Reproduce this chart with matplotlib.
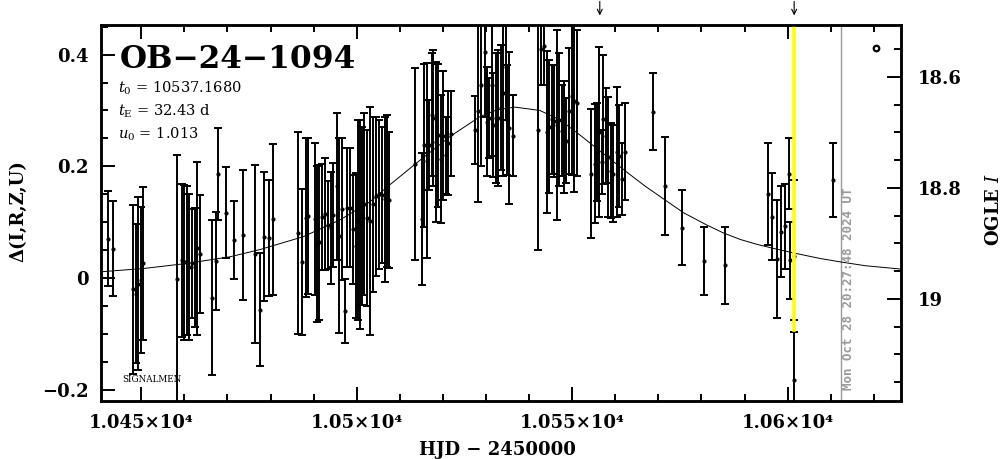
import matplotlib
matplotlib.use("Agg")
import matplotlib.pyplot as plt
from matplotlib.ticker import MultipleLocator

# ---------------- data ----------------
hjd = [10442.37, 10443.53, 10448.17, 10448.79, 10449.33, 10449.88, 10450.49,
       10458.38, 10459.39, 10459.93, 10460.55, 10461.17, 10461.86, 10462.40,
       10463.02, 10463.64, 10466.35, 10467.28, 10467.90, 10469.67, 10471.53,
       10473.70, 10476.40,
       10477.56, 10478.49, 10479.73, 10480.50, 10486.45, 10487.23, 10488.23,
       10488.77, 10490.32, 10490.71, 10491.33, 10491.87, 10492.64, 10493.41,
       10493.96, 10494.57, 10495.35, 10495.89, 10496.51, 10497.28, 10497.82,
       10498.44, 10499.21, 10499.83, 10500.38, 10500.76, 10501.15, 10501.69,
       10502.31, 10503.08, 10503.86, 10504.47, 10505.25, 10505.79, 10506.56,
       10507.10, 10507.57, 10513.52,
       10515.08, 10515.62, 10516.39, 10516.86, 10517.40, 10517.78, 10518.40,
       10518.94, 10519.48, 10520.10, 10520.72, 10521.26, 10521.80,
       10527.45, 10528.22, 10528.77, 10529.77, 10530.16, 10530.70, 10531.32,
       10531.70, 10532.32, 10532.87, 10533.41, 10534.02, 10534.57, 10534.95,
       10535.42, 10536.19,
       10542.15, 10542.69, 10543.46, 10544.08, 10544.70, 10545.24, 10545.78,
       10546.40, 10546.94, 10547.56, 10548.10, 10548.56, 10549.26, 10549.88,
       10550.42, 10551.04,
       10554.36, 10555.29, 10555.83, 10556.30, 10556.84, 10557.22, 10557.84,
       10558.38, 10558.93, 10559.54, 10560.32, 10560.94, 10561.48, 10562.25,
       10568.67, 10571.53, 10575.55, 10580.58, 10585.45,
       10595.50, 10596.43, 10597.44, 10598.37, 10599.37, 10600.38, 10600.53,
       10601.54, 10601.54, 10610.59]
delta = [0.070, 0.052, -0.020, -0.028, -0.010, -0.004, 0.026,
         -0.001, 0.032, 0.028, 0.031, 0.020, 0.026, 0.019,
         0.053, 0.043, -0.035, 0.031, 0.186, 0.117, 0.068,
         0.077, 0.043,
         -0.057, 0.074, 0.071, 0.105, 0.081, 0.029, 0.108,
         0.111, 0.105, 0.061, 0.064, 0.110, 0.114, 0.095,
         0.090, 0.113, 0.164, 0.076, 0.123, -0.059, 0.126,
         0.126, 0.087, 0.058, 0.104, 0.096, 0.111, 0.132,
         0.107, 0.102, 0.132, 0.146, 0.150, 0.149, 0.141,
         0.156, 0.140, 0.204,
         0.105, 0.238, 0.210, 0.238, 0.292, 0.286, 0.244,
         0.256, 0.213, 0.255, 0.220, 0.241, 0.258,
         0.265, 0.299, 0.346, 0.405, 0.280, 0.286, 0.346,
         0.274, 0.286, 0.286, 0.305, 0.331, 0.378, 0.283,
         0.269, 0.255,
         0.265, 0.410, 0.416, 0.261, 0.271, 0.284, 0.281,
         0.274, 0.283, 0.264, 0.252, 0.246, 0.299, 0.326,
         0.317, 0.313,
         0.187, 0.205, 0.225, 0.262, 0.208, 0.284, 0.255,
         0.217, 0.192, 0.187, 0.226, 0.219, 0.177, 0.226,
         0.298, 0.165, 0.090, 0.031, 0.023,
         0.150, 0.110, 0.034, 0.083, 0.093, 0.187, 0.032,
         0.040, -0.183, 0.175]
err = [0.085, 0.085, 0.151, 0.125, 0.155, 0.131, 0.137,
       0.221, 0.137, 0.139, 0.133, 0.131, 0.098, 0.106,
       0.155, 0.106, 0.139, 0.088, 0.082, 0.082, 0.069,
       0.116, 0.160,
       0.101, 0.116, 0.104, 0.135, 0.181, 0.131, 0.142,
       0.139, 0.136, 0.139, 0.139, 0.095, 0.100, 0.078,
       0.100, 0.093, 0.131, 0.175, 0.127, 0.058, 0.106,
       0.106, 0.097, 0.130, 0.179, 0.187, 0.160, 0.163,
       0.158, 0.204, 0.157, 0.143, 0.133, 0.122, 0.148,
       0.136, 0.122, 0.172,
       0.118, 0.146, 0.175, 0.081, 0.110, 0.122, 0.143,
       0.128, 0.115, 0.115, 0.069, 0.093, 0.076,
       0.060, 0.163, 0.146, 0.116, 0.098, 0.072, 0.128,
       0.093, 0.116, 0.122, 0.112, 0.149, 0.095, 0.098,
       0.136, 0.073,
       0.215, 0.064, 0.070, 0.145, 0.119, 0.097, 0.100,
       0.170, 0.119, 0.082, 0.100, 0.076, 0.112, 0.142,
       0.163, 0.131,
       0.116, 0.107, 0.088, 0.152, 0.057, 0.115, 0.085,
       0.107, 0.085, 0.087, 0.116, 0.091, 0.064, 0.087,
       0.069, 0.088, 0.067, 0.061, 0.069,
       0.091, 0.078, 0.106, 0.081, 0.076, 0.063, 0.069,
       0.136, 0.107, 0.066]

model_hjd = [10440.4, 10450.5, 10460.5, 10470.6, 10477.6, 10487.6, 10496.1,
             10503.0, 10507.7, 10514.7, 10521.6, 10528.6, 10532.5, 10536.7,
             10542.5, 10547.2, 10551.8, 10557.0, 10562.6, 10567.0, 10571.5,
             10575.8, 10581.2, 10585.0, 10589.0, 10593.0, 10596.7, 10601.3,
             10607.5, 10612.1, 10618.0, 10626.3]
model_delta = [0.011, 0.017, 0.026, 0.038, 0.051, 0.074, 0.104,
               0.136, 0.167, 0.211, 0.253, 0.289, 0.301, 0.306,
               0.300, 0.283, 0.256, 0.224, 0.190, 0.164, 0.140,
               0.117, 0.095, 0.081, 0.069, 0.060, 0.053, 0.045,
               0.035, 0.029, 0.022, 0.016]

xtick_vals = [10450, 10500, 10550, 10600]
xtick_labels = ["1.045×10⁴", "1.05×10⁴", "1.055×10⁴", "1.06×10⁴"]
ytick_vals = [-0.2, 0.0, 0.2, 0.4]
ytick_labels = ["−0.2", "0", "0.2", "0.4"]
mag_ticks = [18.6, 18.8, 19.0]
mag_labels = ["18.6", "18.8", "19"]

event_name = "OB−24−1094"
param_lines = [r"$t_{0}$ = 10537.1680", r"$t_{\rm E}$ = 32.43 d", r"$u_{0}$ = 1.013"]
arrow_hjd = [10556.4, 10601.5]
now_hjd = 10601.5
gray_hjd = 10612.4
circle_hjd = [10620.5]
circle_delta = [0.412]
timestamp = "Mon Oct 28 20:27:48 2024 UT"

# ---------------- figure ----------------
plt.rcParams["font.family"] = "DejaVu Serif"
plt.rcParams["mathtext.fontset"] = "dejavuserif"

W, H = 1004, 459
fig = plt.figure(figsize=(W / 100, H / 100), dpi=100)
ax = fig.add_axes([101 / W, 58 / H, 800 / W, 376 / H])
ax.set_xlim(10440.67, 10626.29)
ax.set_ylim(-0.2202, 0.4530)

ax.plot(model_hjd, model_delta, color="black", lw=0.7, zorder=2)
ax.errorbar(hjd, delta, yerr=err, fmt="o", ms=2.0, color="black",
            ecolor="black", elinewidth=1.4, capsize=2.6, capthick=1.4, zorder=3)
ax.axvline(gray_hjd, color="#9a9a9a", lw=1.0, zorder=1)
ax.axvline(now_hjd, ymin=0.189, ymax=1.0, color="#ffff00", lw=2.6, zorder=4)
ax.plot(circle_hjd, circle_delta, "o", mfc="none", mec="black", ms=4, mew=1.6, zorder=5)

for xa in arrow_hjd:
    ax.annotate("", xy=(xa, 1.018), xycoords=("data", "axes fraction"),
                xytext=(xa, 1.07), textcoords=("data", "axes fraction"),
                arrowprops=dict(arrowstyle="->", lw=0.8, color="black", mutation_scale=9),
                annotation_clip=False)

ax.set_xticks(xtick_vals)
ax.set_xticklabels(xtick_labels)
ax.xaxis.set_minor_locator(MultipleLocator(10))
ax.set_yticks(ytick_vals)
ax.set_yticklabels(ytick_labels)
ax.yaxis.set_minor_locator(MultipleLocator(0.05))
ax.tick_params(which="both", direction="in", top=True, right=False, width=1.4)
ax.tick_params(which="major", length=10, labelsize=13, pad=9)
ax.tick_params(which="minor", length=5)
for lab in ax.get_xticklabels() + ax.get_yticklabels():
    lab.set_fontweight("bold")
for sp in ax.spines.values():
    sp.set_linewidth(1.8)

ax2 = ax.twinx()
ax2.set_ylim(19.1838, 18.5063)
ax2.set_yticks(mag_ticks)
ax2.set_yticklabels(mag_labels)
ax2.yaxis.set_minor_locator(MultipleLocator(0.05))
ax2.tick_params(which="both", direction="in", width=1.4)
ax2.tick_params(which="major", length=10, labelsize=13, pad=12)
ax2.tick_params(which="minor", length=5)
for lab in ax2.get_yticklabels():
    lab.set_fontweight("bold")
for sp in ax2.spines.values():
    sp.set_linewidth(1.8)

# texts
ax.text(0.024, 0.886, event_name, transform=ax.transAxes, fontsize=22.5,
        fontweight="bold", va="baseline", ha="left")
for i, s in enumerate(param_lines):
    ax.text(0.021, 0.819 - i * 0.060, s, transform=ax.transAxes, fontsize=10.5,
            va="baseline", ha="left")
ax.text(0.026, 0.056, "SIGNALMEN", transform=ax.transAxes, fontsize=6.3,
        va="center", ha="left")
ax.text(0.934, 0.029, timestamp, transform=ax.transAxes, rotation=90,
        fontsize=9, family="DejaVu Sans Mono", fontweight="bold",
        color="#9a9a9a", ha="center", va="bottom", zorder=6)

fig.text(497 / W, 1 - 450 / H, "HJD − 2450000", fontsize=13, fontweight="bold",
         ha="center", va="center")
fig.text(18 / W, 1 - 211 / H, "Δ(I,R,Z,U)", fontsize=13, fontweight="bold",
         rotation=90, ha="center", va="center")
fig.text(994 / W, 1 - 209 / H, r"OGLE $\mathbf{\mathit{I}}$", fontsize=13, fontweight="bold",
         rotation=90, ha="center", va="center")

fig.savefig("out.png", dpi=100)
